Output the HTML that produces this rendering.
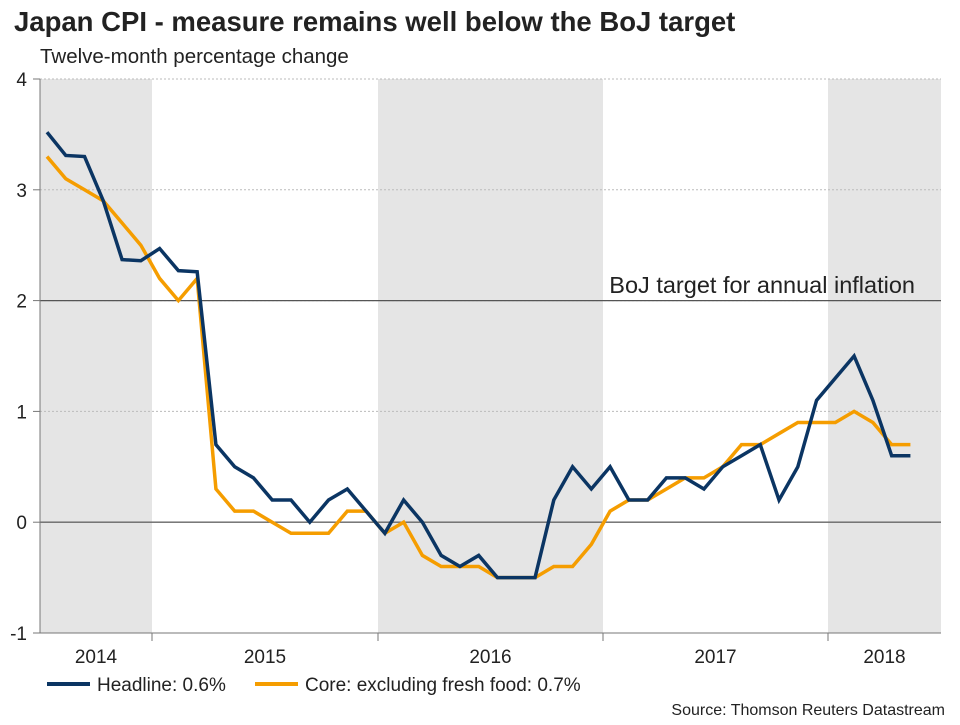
<!DOCTYPE html>
<html><head><meta charset="utf-8"><style>
body{margin:0;background:#fff;font-family:"Liberation Sans",Arial,sans-serif;}
svg text{font-family:"Liberation Sans",Arial,sans-serif;}
</style></head><body>
<svg id="chart" width="960" height="720" viewBox="0 0 960 720">
<text x="14" y="31" font-size="27.5" font-weight="bold" fill="#222">Japan CPI - measure remains well below the BoJ target</text>
<text x="40" y="63" font-size="20.5" fill="#222">Twelve-month percentage change</text>
<g id="bands"></g><g id="grid"></g><g id="series"></g>
<text x="915" y="293" font-size="23.5" fill="#222" text-anchor="end">BoJ target for annual inflation</text>
<g>
<line x1="47" y1="684" x2="90" y2="684" stroke="#0b3563" stroke-width="4"/>
<text x="97" y="691" font-size="19" fill="#222">Headline: 0.6%</text>
<line x1="255" y1="684" x2="298" y2="684" stroke="#f59d00" stroke-width="4"/>
<text x="305" y="691" font-size="19" fill="#222">Core: excluding fresh food: 0.7%</text>
</g>
<text x="945" y="715" font-size="16" fill="#222" text-anchor="end">Source: Thomson Reuters Datastream</text>
</svg>
<script>
const yTicks=[-1,0,1,2,3,4];
const yearLabels=["2014","2015","2016","2017","2018"];
const headline=[3.52,3.31,3.30,2.9,2.37,2.36,2.47,2.27,2.26,0.7,0.5,0.4,0.2,0.2,0.0,0.2,0.3,0.1,-0.1,0.2,0.0,-0.3,-0.4,-0.3,-0.5,-0.5,-0.5,0.2,0.5,0.3,0.5,0.2,0.2,0.4,0.4,0.3,0.5,0.6,0.7,0.2,0.5,1.1,1.3,1.5,1.1,0.6,0.6];
const core=[3.3,3.1,3.0,2.9,2.7,2.5,2.2,2.0,2.2,0.3,0.1,0.1,0.0,-0.1,-0.1,-0.1,0.1,0.1,-0.1,0.0,-0.3,-0.4,-0.4,-0.4,-0.5,-0.5,-0.5,-0.4,-0.4,-0.2,0.1,0.2,0.2,0.3,0.4,0.4,0.5,0.7,0.7,0.8,0.9,0.9,0.9,1.0,0.9,0.7,0.7];
const target=2;
const NS="http://www.w3.org/2000/svg";
const L=40,R=941,T=79,B=633;
function y(v){return B-(v+1)*(B-T)/5;}
function x(i){return 47+i*18.77;}
const yb=[40,152,378,603,828,941];
function mk(tag,attrs,parent){const e=document.createElementNS(NS,tag);for(const k in attrs)e.setAttribute(k,attrs[k]);parent.appendChild(e);return e;}
const bands=document.getElementById('bands'),grid=document.getElementById('grid'),ser=document.getElementById('series');
yearLabels.forEach((lab,i)=>{
 if(i%2===0){const r=mk('rect',{x:yb[i],y:T,width:yb[i+1]-yb[i],height:B-T,fill:'#e5e5e5'},bands);
 
 }
 const t=mk('text',{x:(yb[i]+yb[i+1])/2,y:663,'font-size':19,fill:'#222','text-anchor':'middle'},grid);t.textContent=lab;
 
 
 if(i>0){const tk=mk('line',{x1:yb[i],x2:yb[i],y1:B,y2:B+8,stroke:'#777'},grid);
 
 }
});
yTicks.forEach(v=>{
 const solid=(v===0);
 if(v>-1){const g=mk('line',{x1:L,x2:R,y1:y(v),y2:y(v),stroke:solid?'#666':'#bbb','stroke-width':solid?1.3:1,'stroke-dasharray':solid?'':'2,2'},grid);
 
 }
 mk('line',{x1:L-7,x2:L,y1:y(v),y2:y(v),stroke:'#777'},grid);
 const t=mk('text',{x:27,y:y(v)+7,'font-size':19,fill:'#222','text-anchor':'end'},grid);t.textContent=v;
 
 
});
const tl=mk('line',{x1:L,x2:R,y1:y(target),y2:y(target),stroke:'#555','stroke-width':1.3},grid);


const ax=mk('line',{x1:L,x2:L,y1:T,y2:B,stroke:'#777'},grid);


const bx=mk('line',{x1:L,x2:R,y1:B,y2:B,stroke:'#777'},grid);


function line(d,col,name){const p=mk('polyline',{points:d.map((v,i)=>x(i)+','+y(v)).join(' '),fill:'none',stroke:col,'stroke-width':3.5,'stroke-linejoin':'miter'},ser);
 
 }
line(core,'#f59d00','core-line');
line(headline,'#0b3563','headline-line');
</script>
</body></html>
